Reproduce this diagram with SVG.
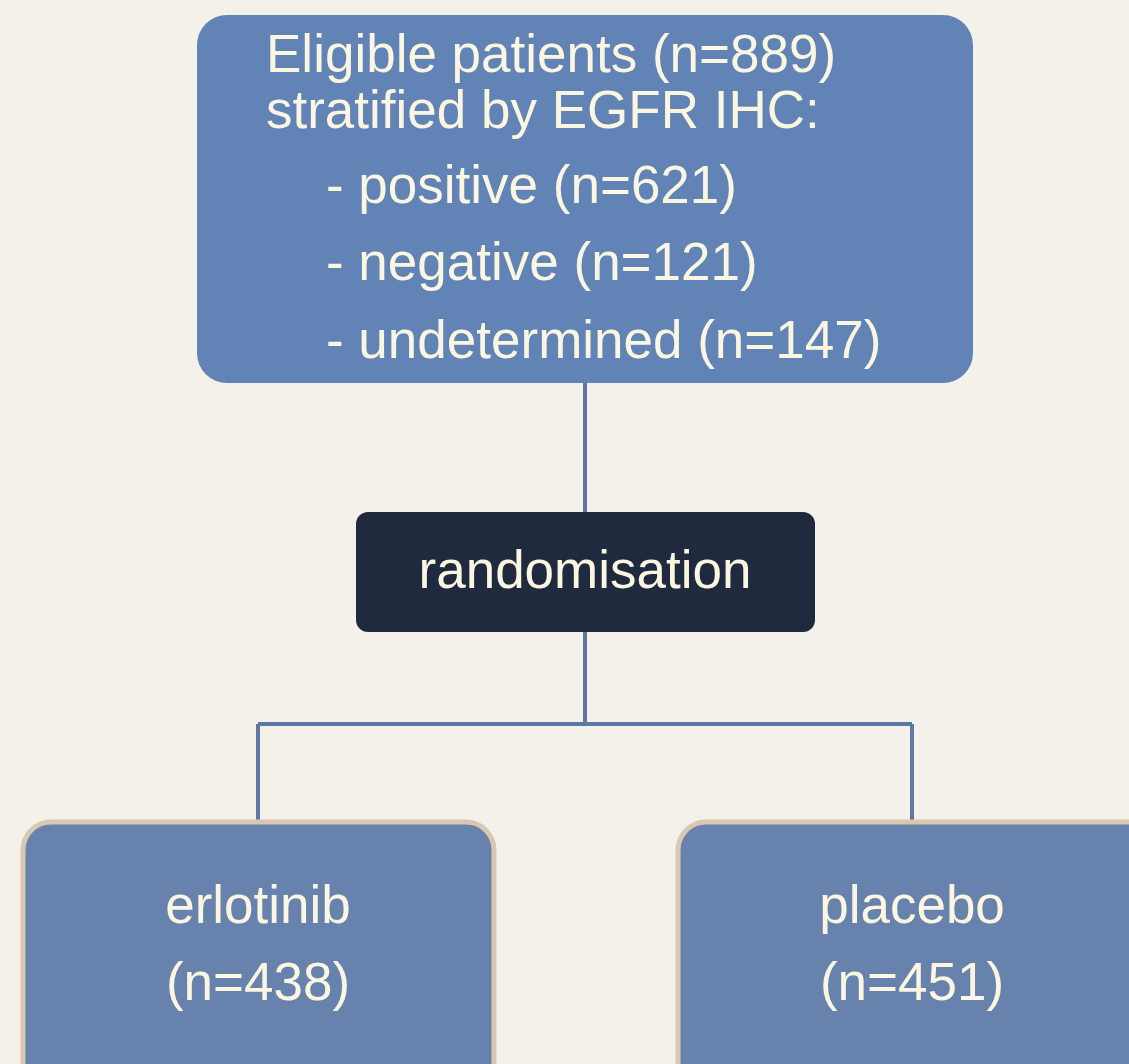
<svg xmlns="http://www.w3.org/2000/svg" width="1129" height="1064" viewBox="0 0 1129 1064">
<style>
.t{font-family:"Liberation Sans",Arial,sans-serif;font-size:53px;fill:#FAF6E1}
.c{text-anchor:middle}
.conn{stroke:#5C78A3;stroke-width:4;fill:none}
.arm{fill:#6782AC;stroke:#D9C8AF;stroke-width:5}
</style>
<rect width="1129" height="1064" fill="#F4F1EB"/>
<g id="connectors">
<path class="conn" d="M585 383V512"/>
<path class="conn" d="M585 632V724M258 724H912M258 724V820M912 724V820"/>
</g>
<g id="eligible">
<rect x="197" y="15" width="776" height="368" rx="30" fill="#6183B5"/>
<text class="t" x="266" y="72">Eligible patients (n=889)</text>
<text class="t" x="266" y="128">stratified by EGFR IHC:</text>
<text class="t" x="326" y="203">- positive (n=621)</text>
<text class="t" x="326" y="280">- negative (n=121)</text>
<text class="t" x="326" y="358">- undetermined (n=147)</text>
</g>
<g id="randomisation">
<rect x="356" y="512" width="459" height="120" rx="12" fill="#1F2A3E"/>
<text class="t c" x="585" y="588">randomisation</text>
</g>
<g id="erlotinib">
<rect class="arm" x="23" y="822" width="471" height="270" rx="28"/>
<text class="t c" x="258" y="923">erlotinib</text>
<text class="t c" x="258" y="1000">(n=438)</text>
</g>
<g id="placebo">
<rect class="arm" x="678" y="822" width="480" height="270" rx="28"/>
<text class="t c" x="912" y="923">placebo</text>
<text class="t c" x="912" y="1000">(n=451)</text>
</g>
</svg>
